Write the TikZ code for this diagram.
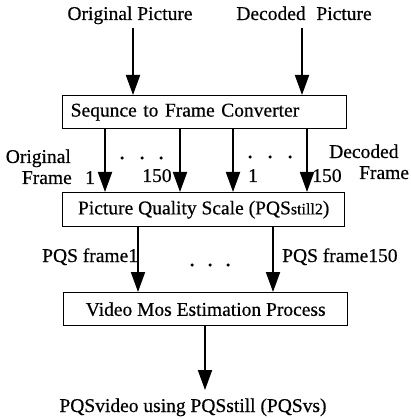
\documentclass[tikz,border=0pt]{standalone}
\usepackage{fontspec}
\setmainfont{Liberation Serif}[FakeBold=0.5]
\usetikzlibrary{arrows.meta}
\begin{document}
\begin{tikzpicture}[x=1pt,y=-1pt,
  box/.style={draw, line width=1.4pt, minimum height=33pt, inner sep=0pt, anchor=north west,
              font=\fontsize{19.5}{23}\selectfont},
  arr/.style={line width=1.9pt, -{Triangle[length=20pt,width=14pt]}},
  lbl/.style={inner sep=0pt, font=\fontsize{19.5}{23}\selectfont},
  dotm/.style={circle, fill, inner sep=0pt, minimum size=3.5pt}]
\useasboundingbox (0,0) rectangle (410,419);

% top labels
\node[lbl, anchor=base] (origpic) at (130,20) {Original Picture};
\node[lbl, anchor=base] (decpic) at (304,20) {Decoded\hspace{0.3em} Picture};

% boxes
\node[box, text width=268pt, inner xsep=8pt, align=left, minimum height=33pt] (conv) at (62,95) {Sequnce to Frame Converter};
\node[box, minimum width=282pt, minimum height=34pt] (pqs) at (62,192) {Picture Quality Scale (PQS{\fontsize{16}{18}\selectfont still2})};
\node[box, minimum width=284pt, minimum height=33pt] (vmos) at (63,292) {Video Mos Estimation Process};

% bottom label
\node[lbl, anchor=base] (out) at (193,412) {PQSvideo using PQSstill (PQSvs)};

% coordinates of connector columns
\coordinate (ta) at (133,28);
\coordinate (tb) at (302,28);
\coordinate (c1) at (105,0);
\coordinate (c2) at (180,0);
\coordinate (c3) at (233,0);
\coordinate (c4) at (307,0);
\coordinate (d1) at (138,0);
\coordinate (d2) at (273,0);
\coordinate (e1) at (205,0);
\coordinate (outtip) at (205,390);

% connectors
\draw[arr] (ta) -- (ta |- conv.north);
\draw[arr] (tb) -- (tb |- conv.north);
\draw[arr] (conv.south -| c1) -- (pqs.north -| c1);
\draw[arr] (conv.south -| c2) -- (pqs.north -| c2);
\draw[arr] (conv.south -| c3) -- (pqs.north -| c3);
\draw[arr] (conv.south -| c4) -- (pqs.north -| c4);
\draw[arr] (pqs.south -| d1) -- (vmos.north -| d1);
\draw[arr] (pqs.south -| d2) -- (vmos.north -| d2);
\draw[arr] (vmos.south -| e1) -- (outtip);

% frame labels
\node[lbl, anchor=base east] (origl) at (71,163) {Original};
\node[lbl, anchor=base east] (origf) at (72,184) {Frame};
\node[lbl, anchor=base] (n1) at (90,184) {1};
\node[lbl, anchor=base] (n150) at (157,182) {150};
\node[lbl, anchor=base] (n1b) at (253,182) {1};
\node[lbl, anchor=base] (n150b) at (327,182) {150};
\node[lbl, anchor=base west] (decl) at (329,158) {Decoded};
\node[lbl, anchor=base west] (decf) at (359,179) {Frame};

% dots
\node[dotm] (da1) at (122,158) {};
\node[dotm] (da2) at (142,158) {};
\node[dotm] (da3) at (161,158) {};
\node[dotm] (db1) at (250,157) {};
\node[dotm] (db2) at (270,157) {};
\node[dotm] (db3) at (290,157) {};
\node[dotm] (dc1) at (192,265) {};
\node[dotm] (dc2) at (210,265) {};
\node[dotm] (dc3) at (228,265) {};

% PQS frame labels
\node[lbl, anchor=base west] (pf1) at (42,262) {PQS frame1};
\node[lbl, anchor=base west] (pf150) at (282,262) {PQS frame150};
\end{tikzpicture}
\end{document}
